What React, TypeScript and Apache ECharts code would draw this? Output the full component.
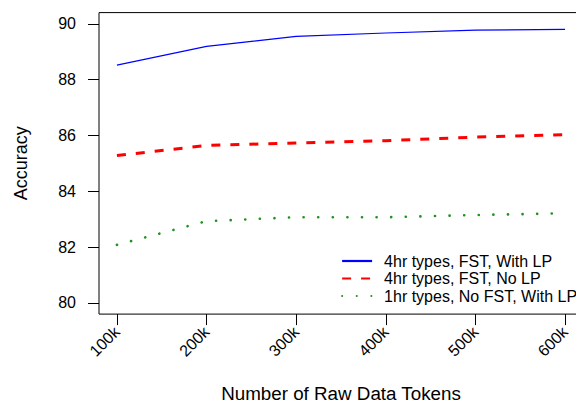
import React, { useEffect, useRef } from "react";
import * as echarts from "echarts";

const tokens = [100000, 200000, 300000, 400000, 500000, 600000];
const withLP4hr = [88.52, 89.19, 89.55, 89.67, 89.77, 89.80];
const noLP4hr = [85.28, 85.64, 85.73, 85.81, 85.94, 86.03];
const noFst1hr = [82.08, 82.93, 83.07, 83.07, 83.15, 83.21];
const seriesNames = ["4hr types, FST, With LP", "4hr types, FST, No LP", "1hr types, No FST, With LP"];
const xTicks = [100000, 200000, 300000, 400000, 500000, 600000];
const yTicks = [80, 82, 84, 86, 88, 90];

const FONT = "'Liberation Sans', Arial, Helvetica, sans-serif";

export default function App() {
  const ref = useRef<HTMLDivElement>(null);
  useEffect(() => {
    if (!ref.current) return;
    const chart = echarts.init(ref.current, null, { renderer: "svg" });
    const pairs = (ys: number[]) => tokens.map((x, i) => [x, ys[i]]);
    chart.setOption({
      animation: false,
      backgroundColor: "#fff",
      textStyle: { fontFamily: FONT },
      grid: {
        left: 99,
        top: 12.6,
        width: 484,
        height: 301.5,
        outerBoundsMode: "none",
        containLabel: false,
        show: true,
        borderColor: "#000",
        borderWidth: 1,
        backgroundColor: "transparent",
      },
      legend: {
        orient: "vertical",
        left: 341,
        top: 253,
        padding: 0,
        itemWidth: 30,
        itemHeight: 14,
        itemGap: 1.5,
        itemStyle: { opacity: 0 },
        textStyle: { fontSize: 16, color: "#000", fontFamily: FONT, padding: [0, 0, 0, 7] },
        data: [
          { name: seriesNames[0], lineStyle: { width: 2.2 } },
          { name: seriesNames[1] },
          { name: seriesNames[2] },
        ],
      },
      xAxis: {
        type: "value",
        min: 80000,
        max: 620000,
        name: "Number of Raw Data Tokens",
        nameLocation: "middle",
        nameGap: 72,
        nameTextStyle: { fontSize: 18.8, lineHeight: 15, color: "#000", fontFamily: FONT },
        axisLine: { show: false },
        splitLine: { show: false },
        axisTick: {
          show: true,
          length: 11,
          customValues: xTicks,
          lineStyle: { color: "#000", width: 1 },
        },
        axisLabel: {
          customValues: xTicks,
          rotate: 45,
          margin: 15,
          fontSize: 16,
          color: "#000",
          fontFamily: FONT,
          formatter: (v: number) => v / 1000 + "k",
        },
      },
      yAxis: {
        type: "value",
        min: 79.6,
        max: 90.4,
        name: "Accuracy",
        nameLocation: "middle",
        nameGap: 69,
        nameTextStyle: { fontSize: 18, color: "#000", fontFamily: FONT },
        axisLine: { show: false },
        splitLine: { show: false },
        axisTick: {
          show: true,
          length: 11,
          customValues: yTicks,
          lineStyle: { color: "#000", width: 1 },
        },
        axisLabel: {
          customValues: yTicks,
          margin: 23,
          fontSize: 16,
          color: "#000",
          fontFamily: FONT,
        },
      },
      series: [
        {
          name: seriesNames[0],
          type: "line",
          data: pairs(withLP4hr),
          symbol: "none",
          color: "#0000ff",
          lineStyle: { color: "#0000ff", width: 1.2 },
        },
        {
          name: seriesNames[1],
          type: "line",
          data: pairs(noLP4hr),
          symbol: "none",
          color: "#ff0000",
          lineStyle: { color: "#ff0000", width: 3, type: [9, 10] },
        },
        {
          name: seriesNames[2],
          type: "line",
          data: pairs(noFst1hr),
          symbol: "none",
          color: "#1f931f",
          lineStyle: { color: "#1f931f", width: 2.6, type: [0.1, 14.5], cap: "round" },
        },
      ],
    });
    return () => chart.dispose();
  }, []);
  return (
    <div
      ref={ref}
      style={{ position: "fixed", left: 0, top: 0, width: 576, height: 403 }}
    />
  );
}
